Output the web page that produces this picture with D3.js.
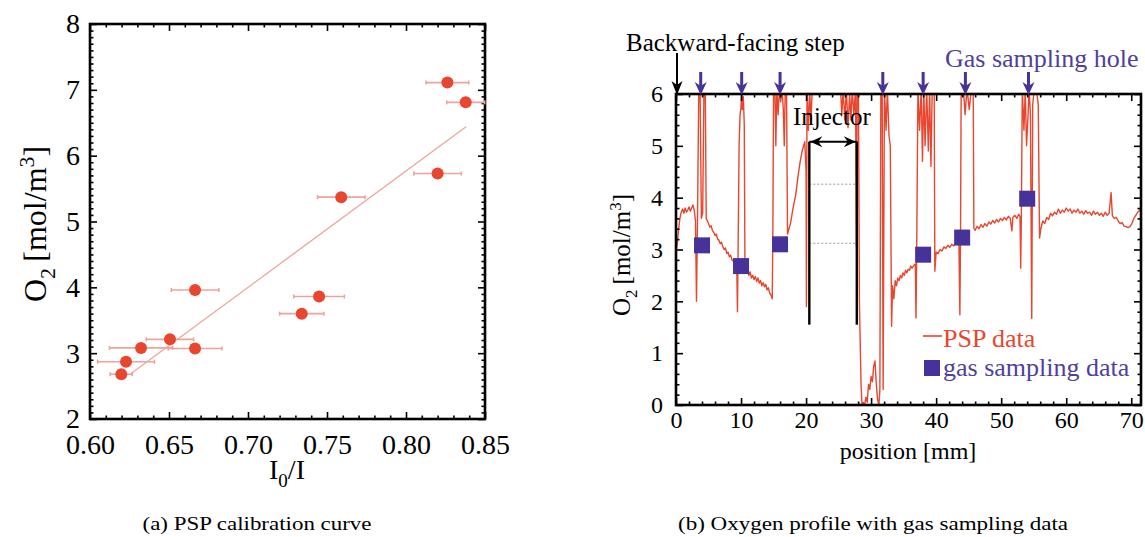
<!DOCTYPE html>
<html><head><meta charset="utf-8">
<script src="https://cdn.jsdelivr.net/npm/d3@7"></script>
<style>
html,body{margin:0;padding:0;background:#fff;}
svg{display:block;}
svg text{font-family:"Liberation Serif","Times New Roman",serif;}
</style></head><body>
<svg id="fig" width="1145" height="537"></svg>
<script>
// ---------- (a) PSP calibration data ----------
const calibI0I = [0.6198, 0.6228, 0.6323, 0.6506, 0.6665, 0.6665, 0.7340, 0.7450, 0.7590, 0.8200, 0.8262, 0.8378];
const calibO2  = [2.68, 2.87, 3.08, 3.21, 3.07, 3.96, 3.60, 3.86, 5.37, 5.73, 7.11, 6.81];
const calibErr = [0.007, 0.018, 0.020, 0.015, 0.017, 0.015, 0.014, 0.016, 0.015, 0.015, 0.0135, 0.012];
const fitI0I = [0.626, 0.838];
const fitO2  = [2.69, 6.44];
const calibXTicks = [0.60, 0.65, 0.70, 0.75, 0.80, 0.85];
const calibYTicks = [2, 3, 4, 5, 6, 7, 8];

// ---------- (b) oxygen profile ----------
const gasPosition = [4, 10, 16, 38, 44, 54];
const gasO2       = [3.08, 2.68, 3.10, 2.90, 3.23, 3.98];
const holePosition = [3.8, 10.1, 16.0, 31.8, 38.0, 44.5, 54.2];
const stepPosition = 0;
const injectorRange = [20.5, 27.8];
const injectorLevels = [3.12, 4.26];
const injectorArrowLevel = 5.08;
const injectorWallBottom = 1.55;
const profileXTicks = [0, 10, 20, 30, 40, 50, 60, 70];
const profileYTicks = [0, 1, 2, 3, 4, 5, 6];

// PSP oxygen profile [position mm, O2 mol/m3]; null marks the unmeasured injector span
const pspData = [
  [0.0,2.95],[0.2,3.12],[0.4,3.38],[0.6,3.6],[0.8,3.72],[1.0,3.78],[1.2,3.7],[1.4,3.8],[1.6,3.72],[1.8,3.76],
  [2.0,3.82],[2.2,3.74],[2.4,3.8],[2.6,3.86],[2.8,3.76],[3.0,3.55],[3.15,2.0],[3.3,3.5],[3.5,6.1],[3.7,6.1],
  [3.9,3.6],[4.1,3.7],[4.3,6.1],[4.5,6.1],[4.65,3.6],[4.8,3.56],[5.0,3.5],[5.2,3.43],[5.4,3.46],[5.6,3.37],
  [5.8,3.33],[6.0,3.27],[6.2,3.3],[6.4,3.2],[6.6,3.18],[6.8,3.11],[7.0,3.14],[7.2,3.05],[7.4,3.0],[7.6,3.03],
  [7.8,2.92],[8.0,2.95],[8.2,2.86],[8.4,2.89],[8.6,2.8],[8.8,2.78],[9.0,2.72],[9.2,2.7],[9.35,2.64],[9.45,1.8],
  [9.55,3.0],[9.7,5.0],[9.85,5.6],[10.0,5.75],[10.1,6.1],[10.2,5.7],[10.35,5.95],[10.5,5.4],[10.6,2.65],[10.8,2.55],
  [11.0,2.6],[11.2,2.5],[11.4,2.57],[11.6,2.45],[11.8,2.5],[12.0,2.42],[12.2,2.48],[12.4,2.38],[12.6,2.45],[12.8,2.35],
  [13.0,2.4],[13.2,2.3],[13.4,2.36],[13.6,2.28],[13.8,2.33],[14.0,2.22],[14.2,2.26],[14.4,2.16],[14.6,2.12],[14.8,2.05],
  [14.9,3.5],[15.0,6.1],[15.2,6.1],[15.35,5.0],[15.5,6.1],[15.7,5.6],[15.9,6.1],[16.1,5.85],[16.3,6.1],[16.5,5.7],
  [16.65,5.0],[16.8,6.1],[17.0,6.0],[17.15,3.3],[17.6,3.5],[18.0,3.8],[18.4,4.05],[18.8,4.45],[19.1,4.7],[19.4,4.9],
  [19.8,5.08],[20.0,4.5],[20.05,1.9],[20.15,6.1],[20.35,5.3],[20.55,6.1],[20.75,5.45],[20.95,6.1],
  [21.0,null],
  [25.3,6.1],[25.5,5.6],[25.7,6.1],[25.95,5.5],[26.2,6.1],[26.45,5.35],[26.7,6.0],[26.9,5.5],[27.1,6.1],[27.35,5.6],
  [27.6,6.1],[27.75,3.05],[27.85,6.1],[28.05,6.1],[28.2,2.0],[28.45,0.4],[28.6,0.0],[28.8,0.05],[29.0,0.0],[29.2,0.15],
  [29.4,0.05],[29.6,0.4],[29.8,0.3],[30.0,0.55],[30.2,0.45],[30.4,0.75],[30.6,0.85],[30.8,0.4],[31.0,0.1],[31.2,0.0],
  [31.35,0.3],[31.5,6.1],[31.7,6.1],[31.85,0.3],[32.05,6.1],[32.3,5.3],[32.5,6.1],[32.75,5.2],[32.95,5.0],[33.15,1.52],
  [33.3,2.3],[33.5,2.05],[33.7,2.4],[33.9,2.3],[34.1,2.45],[34.3,2.4],[34.5,2.5],[34.7,2.45],[34.9,2.55],[35.1,2.5],
  [35.3,2.6],[35.5,2.55],[35.7,2.62],[35.9,2.6],[36.1,2.68],[36.3,2.64],[36.6,2.7],[36.8,2.72],[36.9,1.68],[37.0,2.8],
  [37.2,6.1],[37.45,5.3],[37.7,6.1],[37.9,4.7],[38.1,6.1],[38.3,5.0],[38.55,6.1],[38.8,4.9],[39.0,6.1],[39.2,4.6],
  [39.4,6.1],[39.7,6.1],[39.8,2.58],[40.0,2.95],[40.3,2.92],[40.6,3.0],[40.9,2.97],[41.2,3.05],[41.5,3.02],[41.8,3.08],
  [42.1,3.04],[42.4,3.1],[42.7,3.07],[43.0,3.12],[43.3,3.1],[43.5,3.15],[43.65,1.74],[43.75,3.3],[43.85,6.1],[44.2,6.1],
  [44.45,5.6],[44.75,6.1],[45.1,5.7],[45.4,6.1],[45.7,6.1],[45.8,3.41],[46.0,3.37],[46.3,3.45],[46.6,3.4],[46.9,3.48],
  [47.2,3.43],[47.5,3.5],[47.8,3.45],[48.1,3.53],[48.4,3.49],[48.7,3.56],[49.0,3.51],[49.3,3.58],[49.6,3.53],[49.9,3.6],
  [50.2,3.56],[50.5,3.62],[50.8,3.57],[51.1,3.64],[51.4,3.6],[51.65,3.36],[51.8,3.62],[52.1,3.66],[52.4,3.6],[52.7,3.68],
  [52.9,3.64],[53.0,2.64],[53.1,3.6],[53.25,6.1],[53.5,5.3],[53.7,6.1],[53.9,5.0],[54.1,5.5],[54.3,6.1],[54.5,5.6],
  [54.7,1.67],[54.85,5.8],[55.1,6.1],[55.4,6.1],[55.7,5.8],[55.9,3.22],[56.1,3.4],[56.4,3.55],[56.7,3.5],[57.0,3.62],
  [57.3,3.58],[57.6,3.7],[57.9,3.65],[58.2,3.72],[58.5,3.68],[58.8,3.78],[59.1,3.7],[59.4,3.76],[59.7,3.72],[60.0,3.8],
  [60.3,3.74],[60.6,3.78],[60.9,3.7],[61.2,3.76],[61.5,3.72],[61.8,3.78],[62.1,3.7],[62.4,3.74],[62.7,3.68],[63.0,3.75],
  [63.3,3.7],[63.6,3.72],[63.9,3.66],[64.2,3.74],[64.5,3.68],[64.8,3.72],[65.1,3.66],[65.4,3.7],[65.7,3.64],[66.0,3.72],
  [66.3,3.66],[66.6,3.7],[66.9,4.1],[67.1,3.65],[67.4,3.6],[67.7,3.62],[68.0,3.55],[68.3,3.5],[68.6,3.52],[68.9,3.45],
  [69.2,3.44],[69.5,3.42],[69.8,3.44],[70.1,3.5],[70.4,3.6],[70.7,3.66],[71.0,3.72],[71.5,3.78]
];

const RED = "#e8462e";
const RED_LIGHT = "#eea49a";
const PURPLE = "#47329a";
const PURPLE_TEXT = "#4f3f9e";
const SERIF = '"Liberation Serif", "Times New Roman", serif';

const svg = d3.select("#fig").style("font-family", SERIF);

// Inward ticks on all four sides of a boxed plot
function boxAxes(g, x, y, o) {
  const [x0, x1] = x.range(), [yb, yt] = y.range();
  const styleAxis = sel => {
    sel.select(".domain").remove();
    sel.attr("font-family", null).attr("font-size", null);
    sel.selectAll(".tick line").attr("stroke", "#000").attr("stroke-width", 1.6);
    sel.selectAll("text").attr("fill", "#000")
      .style("font-family", SERIF).style("font-size", o.fontSize + "px");
  };
  g.append("g").attr("transform", `translate(0,${yb})`)
    .call(d3.axisBottom(x).tickValues(o.xMajor).tickSize(-o.major).tickPadding(o.xPad).tickFormat(o.xFmt)).call(styleAxis);
  g.append("g").attr("transform", `translate(0,${yb})`)
    .call(d3.axisBottom(x).tickValues(o.xMinor).tickSize(-o.minor).tickFormat("")).call(styleAxis);
  g.append("g").attr("transform", `translate(0,${yt})`)
    .call(d3.axisTop(x).tickValues(o.xMajor).tickSize(-o.major).tickFormat("")).call(styleAxis);
  g.append("g").attr("transform", `translate(0,${yt})`)
    .call(d3.axisTop(x).tickValues(o.xMinor).tickSize(-o.minor).tickFormat("")).call(styleAxis);
  g.append("g").attr("transform", `translate(${x0},0)`)
    .call(d3.axisLeft(y).tickValues(o.yMajor).tickSize(-o.major).tickPadding(o.yPad).tickFormat(o.yFmt)).call(styleAxis);
  g.append("g").attr("transform", `translate(${x0},0)`)
    .call(d3.axisLeft(y).tickValues(o.yMinor).tickSize(-o.minor).tickFormat("")).call(styleAxis);
  g.append("g").attr("transform", `translate(${x1},0)`)
    .call(d3.axisRight(y).tickValues(o.yMajor).tickSize(-o.major).tickFormat("")).call(styleAxis);
  g.append("g").attr("transform", `translate(${x1},0)`)
    .call(d3.axisRight(y).tickValues(o.yMinor).tickSize(-o.minor).tickFormat("")).call(styleAxis);
  g.append("rect").attr("x", x0).attr("y", yt).attr("width", x1 - x0).attr("height", yb - yt)
    .attr("fill", "none").attr("stroke", "#000").attr("stroke-width", 2.6);
}

function minorBetween(major, step) {
  const out = [];
  for (let i = 0; i < major.length - 1; i++) {
    const a = major[i], b = major[i + 1];
    const n = Math.round((b - a) / step);
    for (let k = 1; k < n; k++) out.push(+(a + k * step).toFixed(4));
  }
  return out;
}

// O2 [mol/m3] label with sub/superscripts
function o2Label(g, size) {
  const t = g.append("text").attr("text-anchor", "middle").style("font-size", size + "px").attr("fill", "#000");
  t.append("tspan").text("O");
  t.append("tspan").style("font-size", size * 0.68 + "px").attr("dy", size * 0.28).text("2");
  t.append("tspan").attr("dy", -size * 0.28).text("\u2009[mol/m");
  t.append("tspan").style("font-size", size * 0.68 + "px").attr("dy", -size * 0.38).text("3");
  t.append("tspan").attr("dy", size * 0.38).text("]");
  return t;
}

// ================= (a) calibration curve =================
const xA = d3.scaleLinear().domain([0.60, 0.85]).range([90, 485]);
const yA = d3.scaleLinear().domain([2, 8]).range([419, 24]);
const gA = svg.append("g");

boxAxes(gA, xA, yA, {
  xMajor: calibXTicks, xMinor: minorBetween(calibXTicks, 0.01),
  yMajor: calibYTicks, yMinor: minorBetween(calibYTicks, 0.1),
  major: 7, minor: 3.5, fontSize: 28, xPad: 15, yPad: 10,
  xFmt: d3.format(".2f"), yFmt: d3.format("d")
});

// linear fit
gA.append("line")
  .attr("x1", xA(fitI0I[0])).attr("y1", yA(fitO2[0]))
  .attr("x2", xA(fitI0I[1])).attr("y2", yA(fitO2[1]))
  .attr("stroke", RED_LIGHT).attr("stroke-width", 1.3);

const calib = calibI0I.map((v, i) => ({ x: v, y: calibO2[i], e: calibErr[i] }));
const eb = gA.append("g").attr("stroke", RED_LIGHT).attr("stroke-width", 1.6);
eb.selectAll("line.bar").data(calib).join("line")
  .attr("x1", d => xA(d.x - d.e)).attr("x2", d => xA(d.x + d.e))
  .attr("y1", d => yA(d.y)).attr("y2", d => yA(d.y));
eb.selectAll("line.capL").data(calib).join("line")
  .attr("x1", d => xA(d.x - d.e)).attr("x2", d => xA(d.x - d.e))
  .attr("y1", d => yA(d.y) - 2).attr("y2", d => yA(d.y) + 2);
eb.selectAll("line.capR").data(calib).join("line")
  .attr("x1", d => xA(d.x + d.e)).attr("x2", d => xA(d.x + d.e))
  .attr("y1", d => yA(d.y) - 2).attr("y2", d => yA(d.y) + 2);

gA.append("g").selectAll("circle").data(calib).join("circle")
  .attr("cx", d => xA(d.x)).attr("cy", d => yA(d.y)).attr("r", 6)
  .attr("fill", RED);

// axis titles
const xtA = gA.append("text").attr("x", 287).attr("y", 479).attr("text-anchor", "middle")
  .style("font-size", "28px").attr("fill", "#000");
xtA.append("tspan").text("I");
xtA.append("tspan").style("font-size", "19px").attr("dy", 8).text("0");
xtA.append("tspan").attr("dy", -8).text("/I");
o2Label(gA.append("g").attr("transform", "translate(46,224) rotate(-90)"), 32);

gA.append("text").attr("x", 257).attr("y", 530).attr("text-anchor", "middle")
  .style("font-size", "19px").attr("textLength", 229).attr("lengthAdjust", "spacingAndGlyphs")
  .attr("fill", "#000").text("(a) PSP calibration curve");

// ================= (b) oxygen profile =================
const xB = d3.scaleLinear().domain([0, 71.5]).range([676, 1141]);
const yB = d3.scaleLinear().domain([0, 6]).range([405, 94]);
const gB = svg.append("g");

svg.append("defs").append("clipPath").attr("id", "clipB").append("rect")
  .attr("x", xB(0)).attr("y", yB(6)).attr("width", xB(71.5) - xB(0)).attr("height", yB(0) - yB(6));

// injector walls and reference levels
const [ix0, ix1] = injectorRange;
gB.append("g").selectAll("line").data(injectorLevels).join("line")
  .attr("x1", xB(ix0)).attr("x2", xB(ix1)).attr("y1", d => yB(d)).attr("y2", d => yB(d))
  .attr("stroke", "#9a9a9a").attr("stroke-width", 1).attr("stroke-dasharray", "2,2");

// PSP profile
const line = d3.line().defined(d => d[1] !== null).x(d => xB(d[0])).y(d => yB(d[1]));
gB.append("path").datum(pspData).attr("clip-path", "url(#clipB)")
  .attr("d", line).attr("fill", "none").attr("stroke", RED)
  .attr("stroke-width", 1.4).attr("stroke-linejoin", "round");

gB.append("g").selectAll("line").data(injectorRange).join("line")
  .attr("x1", d => xB(d)).attr("x2", d => xB(d))
  .attr("y1", yB(injectorArrowLevel)).attr("y2", yB(injectorWallBottom))
  .attr("stroke", "#000").attr("stroke-width", 2.4);

// injector double arrow
const ay = yB(injectorArrowLevel);
gB.append("line").attr("x1", xB(ix0)).attr("x2", xB(ix1)).attr("y1", ay).attr("y2", ay)
  .attr("stroke", "#000").attr("stroke-width", 2);
const headL = xB(ix0) + 1, headR = xB(ix1) - 1;
gB.append("path").attr("fill", "#000")
  .attr("d", `M${headL},${ay} L${headL + 12},${ay - 5.5} L${headL + 8},${ay} L${headL + 12},${ay + 5.5} Z` +
             `M${headR},${ay} L${headR - 12},${ay - 5.5} L${headR - 8},${ay} L${headR - 12},${ay + 5.5} Z`);
gB.append("text").attr("x", 793).attr("y", 125).style("font-size", "25px").attr("fill", "#000").text("Injector");

boxAxes(gB, xB, yB, {
  xMajor: profileXTicks, xMinor: minorBetween(profileXTicks, 2),
  yMajor: profileYTicks, yMinor: minorBetween(profileYTicks, 0.2),
  major: 7, minor: 3.5, fontSize: 24, xPad: 6, yPad: 13,
  xFmt: d3.format("d"), yFmt: d3.format("d")
});

// gas sampling data
gB.append("g").selectAll("rect").data(gasPosition.map((p, i) => [p, gasO2[i]])).join("rect")
  .attr("x", d => xB(d[0]) - 8).attr("y", d => yB(d[1]) - 8)
  .attr("width", 16).attr("height", 16).attr("fill", PURPLE);

// sampling hole arrows
const topY = yB(6);
const holes = gB.append("g");
holes.selectAll("line").data(holePosition).join("line")
  .attr("x1", d => xB(d)).attr("x2", d => xB(d)).attr("y1", topY - 22).attr("y2", topY - 8)
  .attr("stroke", PURPLE).attr("stroke-width", 3);
holes.selectAll("path").data(holePosition).join("path").attr("fill", PURPLE)
  .attr("d", d => { const x = xB(d); return `M${x},${topY + 1} L${x - 6},${topY - 12} L${x},${topY - 8} L${x + 6},${topY - 12} Z`; });
gB.append("text").attr("x", 945).attr("y", 67).style("font-size", "26px").attr("fill", PURPLE_TEXT).text("Gas sampling hole");

// backward-facing step arrow
const sx = xB(stepPosition) + 1;
gB.append("line").attr("x1", sx).attr("x2", sx).attr("y1", 53).attr("y2", topY - 6)
  .attr("stroke", "#000").attr("stroke-width", 2);
gB.append("path").attr("fill", "#000")
  .attr("d", `M${sx},${topY + 1} L${sx - 5.5},${topY - 13} L${sx},${topY - 9} L${sx + 5.5},${topY - 13} Z`);
gB.append("text").attr("x", 626).attr("y", 51).style("font-size", "25px").attr("fill", "#000").text("Backward-facing step");

// legend
gB.append("line").attr("x1", 923).attr("x2", 942).attr("y1", 336).attr("y2", 336)
  .attr("stroke", RED).attr("stroke-width", 1.6);
gB.append("text").attr("x", 943).attr("y", 347).style("font-size", "26px").attr("fill", RED).text("PSP data");
gB.append("rect").attr("x", 924).attr("y", 360).attr("width", 16).attr("height", 16).attr("fill", PURPLE);
gB.append("text").attr("x", 943).attr("y", 376).style("font-size", "26px").attr("fill", PURPLE_TEXT).text("gas sampling data");

// axis titles
gB.append("text").attr("x", 908).attr("y", 459).attr("text-anchor", "middle")
  .style("font-size", "24px").attr("fill", "#000").text("position [mm]");
o2Label(gB.append("g").attr("transform", "translate(630,255) rotate(-90)"), 25);

gB.append("text").attr("x", 873).attr("y", 530).attr("text-anchor", "middle")
  .style("font-size", "19px").attr("textLength", 390).attr("lengthAdjust", "spacingAndGlyphs")
  .attr("fill", "#000").text("(b) Oxygen profile with gas sampling data");
</script></body></html>
